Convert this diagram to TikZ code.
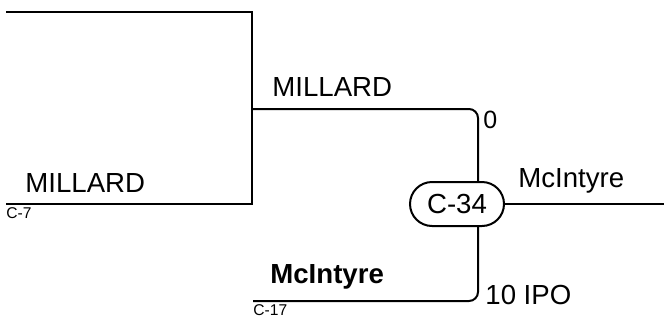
\documentclass[tikz,border=0pt]{standalone}
\usepackage{fontspec}
\setmainfont{Liberation Sans}
\usetikzlibrary{positioning,shapes.misc,calc}

\begin{document}
\begin{tikzpicture}[
  x=0.5pt, y=-0.5pt,
  bline/.style={draw=black, line width=1pt},
  team/.style={anchor=base west, inner sep=0pt, font=\fontsize{13.8}{16}\selectfont},
  seed/.style={anchor=north west, inner sep=0pt, font=\fontsize{7.8}{9}\selectfont},
  score/.style={anchor=base west, inner sep=0pt, font=\fontsize{13.8}{16}\selectfont},
  game/.style={draw, line width=1pt, rounded rectangle, minimum width=47pt,
               minimum height=22pt, inner sep=0pt, font=\fontsize{13.8}{16}\selectfont}
]
  \useasboundingbox (0,0) rectangle (664,322);
  % bracket ends
  \coordinate (top)  at (6,12);
  \coordinate (lft)  at (6,204);
  \coordinate (jn)   at (252,109);
  \coordinate (bot)  at (253,301);
  \coordinate (out)  at (664,204);
  \coordinate (pipe) at (478,0);
  % game
  \node[game] (c34) at (457,204) {C-34};
  % teams, seeds, scores
  \node[team] (mil1) at (25,192) {MILLARD};
  \node[seed] (s7)   at (6,207) {C-7};
  \node[team] (mil2) at (272,96) {MILLARD};
  \node[score, font=\fontsize{12.5}{14}\selectfont] (sc0) at (483,128) {0};
  \node[team] (mci1) at (518,187) {McIntyre};
  \node[team, font=\bfseries\fontsize{13.8}{16}\selectfont] (mci2) at (270,283) {McIntyre};
  \node[seed] (s17)  at (253,304) {C-17};
  \node[score] (sc10) at (485,304) {10 IPO};
  % lines
  \draw[bline] (top) -- (top -| jn) -- (lft -| jn) -- (lft);
  \draw[bline, rounded corners=4.5pt] (jn) -- (jn -| pipe) -- (c34.north -| pipe);
  \draw[bline, rounded corners=4.5pt] (bot) -- (bot -| pipe) -- (c34.south -| pipe);
  \draw[bline] (c34.east) -- (c34.east -| out);
\end{tikzpicture}
\end{document}
